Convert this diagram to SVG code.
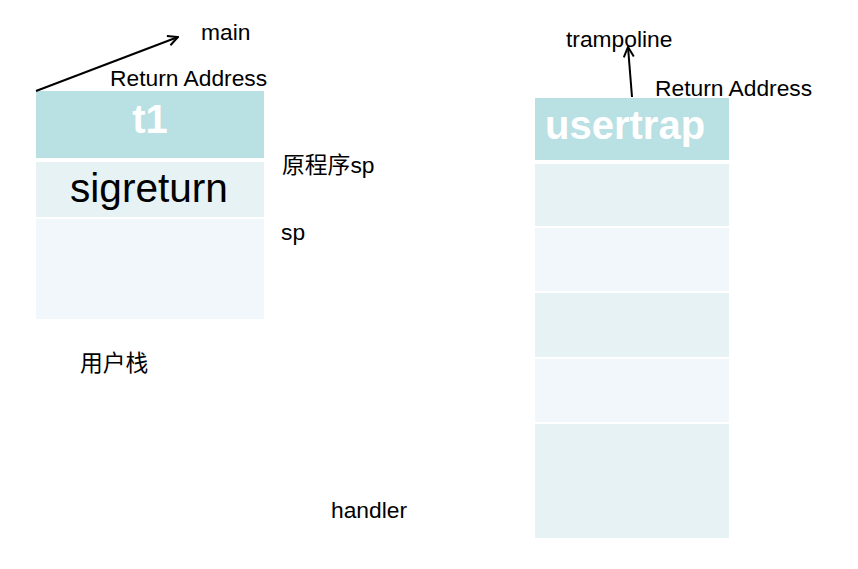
<svg xmlns="http://www.w3.org/2000/svg" width="858" height="569" viewBox="0 0 858 569">
<style>
text{font-family:"Liberation Sans","Noto Sans CJK SC",Arial,sans-serif;fill:#000}
.lbl{font-size:22.8px}
.big{font-size:40.6px}
.bold{font-size:40px;font-weight:bold;fill:#fff}
.dark{fill:#B9E0E3}
.mid{fill:#E6F2F4}
.light{fill:#F1F7FA}
.conn{stroke:#000;stroke-width:2;fill:none}
</style>
<defs>
<marker id="arr" viewBox="0 0 12 12" refX="11" refY="6" markerWidth="12" markerHeight="12" markerUnits="userSpaceOnUse" orient="auto">
<path d="M1,1 L11,6 L1,11" fill="none" stroke="#000" stroke-width="2"/>
</marker>
</defs>
<rect width="858" height="569" fill="#fff"/>
<g id="user-stack">
<g id="t1"><rect class="dark" x="36" y="91" width="228" height="67"/><text class="bold" x="150" y="133" text-anchor="middle">t1</text></g>
<g id="sigreturn"><rect class="mid" x="36" y="162" width="228" height="55"/><text class="big" x="149" y="202" text-anchor="middle">sigreturn</text></g>
<g id="stack-rest"><rect class="light" x="36" y="219" width="228" height="100"/></g>
</g>
<g id="kernel-stack">
<g id="usertrap"><rect class="dark" x="535" y="98" width="194" height="62"/><text class="bold" x="545" y="139">usertrap</text></g>
<rect class="mid" x="535" y="164" width="194" height="62"/>
<rect class="light" x="535" y="228" width="194" height="63"/>
<rect class="mid" x="535" y="293" width="194" height="64"/>
<rect class="light" x="535" y="359" width="194" height="63"/>
<rect class="mid" x="535" y="424" width="194" height="114"/>
</g>
<g id="labels">
<text class="lbl" x="201" y="40">main</text>
<text class="lbl" x="110" y="86">Return Address</text>
<text class="lbl" x="282" y="173">原程序sp</text>
<text class="lbl" x="281" y="240">sp</text>
<text class="lbl" x="80" y="371">用户栈</text>
<text class="lbl" x="566" y="47">trampoline</text>
<text class="lbl" x="655" y="96">Return Address</text>
<text class="lbl" x="331" y="518">handler</text>
</g>
<g id="connectors">
<line class="conn" x1="36" y1="91" x2="178" y2="37" marker-end="url(#arr)"/>
<line class="conn" x1="632" y1="97" x2="628" y2="47" marker-end="url(#arr)"/>
</g>
</svg>
